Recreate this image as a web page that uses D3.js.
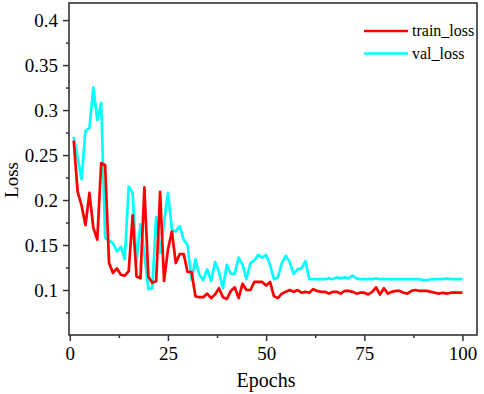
<!DOCTYPE html>
<html>
<head>
<meta charset="utf-8">
<script src="https://cdn.jsdelivr.net/npm/d3@7"></script>
<style>
  body { margin: 0; background: #fff; }
  svg, svg text { font-family: "Liberation Serif", "Times New Roman", serif; }
</style>
</head>
<body>
<div id="chart"></div>
<script>
// Loss values per epoch (1..100)
const trainLoss = [
  0.266, 0.209, 0.194, 0.172, 0.208, 0.169, 0.156, 0.241, 0.239, 0.130,
  0.119, 0.124, 0.117, 0.116, 0.121, 0.183, 0.115, 0.113, 0.214, 0.115,
  0.108, 0.110, 0.209, 0.110, 0.145, 0.165, 0.130, 0.140, 0.140, 0.120,
  0.120, 0.093, 0.092, 0.092, 0.096, 0.091, 0.095, 0.102, 0.092, 0.090,
  0.099, 0.103, 0.091, 0.107, 0.100, 0.100, 0.109, 0.109, 0.109, 0.105,
  0.109, 0.093, 0.091, 0.096, 0.098, 0.100, 0.098, 0.100, 0.097, 0.098,
  0.097, 0.101, 0.099, 0.098, 0.098, 0.096, 0.098, 0.098, 0.096, 0.099,
  0.099, 0.098, 0.096, 0.097, 0.097, 0.095, 0.098, 0.103, 0.095, 0.102,
  0.096, 0.098, 0.099, 0.099, 0.097, 0.096, 0.099, 0.100, 0.099, 0.099,
  0.099, 0.098, 0.097, 0.096, 0.097, 0.096, 0.097, 0.097, 0.097, 0.097
];
const valLoss = [
  0.270, 0.247, 0.223, 0.277, 0.280, 0.325, 0.289, 0.308, 0.158, 0.155,
  0.152, 0.143, 0.148, 0.134, 0.215, 0.208, 0.131, 0.173, 0.140, 0.101,
  0.102, 0.181, 0.141, 0.175, 0.208, 0.167, 0.165, 0.171, 0.156, 0.150,
  0.111, 0.134, 0.117, 0.111, 0.123, 0.110, 0.131, 0.120, 0.102, 0.128,
  0.118, 0.118, 0.136, 0.128, 0.112, 0.130, 0.133, 0.139, 0.136, 0.139,
  0.128, 0.112, 0.114, 0.130, 0.138, 0.131, 0.118, 0.123, 0.124, 0.132,
  0.112, 0.112, 0.112, 0.112, 0.112, 0.113, 0.112, 0.114, 0.113, 0.114,
  0.113, 0.116, 0.113, 0.112, 0.112, 0.112, 0.112, 0.113, 0.112, 0.112,
  0.112, 0.112, 0.112, 0.112, 0.112, 0.112, 0.112, 0.112, 0.112, 0.111,
  0.111, 0.112, 0.112, 0.112, 0.112, 0.113, 0.112, 0.112, 0.112, 0.112
];
const epochs = d3.range(1, trainLoss.length + 1);
const xTicks = [0, 25, 50, 75, 100];
const yTicks = [0.1, 0.15, 0.2, 0.25, 0.3, 0.35, 0.4];
const seriesNames = ["train_loss", "val_loss"];
const seriesColors = ["#ff0000", "#00ffff"];

const W = 484, H = 394;
const margin = { top: 3, right: 7, bottom: 59, left: 69 };
const innerW = W - margin.left - margin.right;
const innerH = H - margin.top - margin.bottom;
const axisColor = "#333";
const serif = '"Liberation Serif", "Times New Roman", serif';

const svg = d3.select("#chart").append("svg")
  .attr("width", W)
  .attr("height", H);

const g = svg.append("g")
  .attr("transform", `translate(${margin.left},${margin.top})`);

const x = d3.scaleLinear().domain([-0.2, 103.7]).range([0, innerW]);
const y = d3.scaleLinear().domain([0.05, 0.419]).range([innerH, 0]);

// minor ticks first, then major axes on top
const xMinor = d3.range(12.5, 101, 25);
const yMinor = d3.range(0.075, 0.42, 0.05);

g.append("g")
  .attr("transform", `translate(0,${innerH})`)
  .call(d3.axisBottom(x).tickValues(xMinor).tickSize(3).tickFormat(""))
  .call(a => a.select(".domain").remove())
  .call(a => a.selectAll("line").attr("stroke", axisColor).attr("stroke-width", 1.5));

g.append("g")
  .call(d3.axisLeft(y).tickValues(yMinor).tickSize(3).tickFormat(""))
  .call(a => a.select(".domain").remove())
  .call(a => a.selectAll("line").attr("stroke", axisColor).attr("stroke-width", 1.5));

const xAxis = g.append("g")
  .attr("transform", `translate(0,${innerH})`)
  .call(d3.axisBottom(x).tickValues(xTicks).tickSize(6).tickPadding(6).tickFormat(d3.format("d")));
xAxis.select(".domain").remove();
xAxis.selectAll("line").attr("stroke", axisColor).attr("stroke-width", 1.5);
xAxis.selectAll("text")
  .style("font-family", serif)
  .style("font-size", "19px")
  .attr("fill", "#000");

const yAxis = g.append("g")
  .call(d3.axisLeft(y).tickValues(yTicks).tickSize(6).tickPadding(5).tickFormat(d => String(+d.toFixed(2))));
yAxis.select(".domain").remove();
yAxis.selectAll("line").attr("stroke", axisColor).attr("stroke-width", 1.5);
yAxis.selectAll("text")
  .style("font-family", serif)
  .style("font-size", "19px")
  .attr("fill", "#000");

// clip lines to the plot box
g.append("clipPath").attr("id", "clip")
  .append("rect").attr("width", innerW).attr("height", innerH);

const line = d3.line()
  .x((d, i) => x(epochs[i]))
  .y(d => y(d));

const plot = g.append("g").attr("clip-path", "url(#clip)");

plot.append("path")
  .datum(valLoss)
  .attr("fill", "none")
  .attr("stroke", seriesColors[1])
  .attr("stroke-width", 2.7)
  .attr("stroke-linejoin", "round")
  .attr("d", line);

plot.append("path")
  .datum(trainLoss)
  .attr("fill", "none")
  .attr("stroke", seriesColors[0])
  .attr("stroke-width", 2.7)
  .attr("stroke-linejoin", "round")
  .attr("d", line);

// frame
g.append("rect")
  .attr("width", innerW)
  .attr("height", innerH)
  .attr("fill", "none")
  .attr("stroke", axisColor)
  .attr("stroke-width", 1.6);

// legend
const legend = g.append("g")
  .attr("transform", `translate(${innerW - 113},28)`);

legend.selectAll("g.item")
  .data(seriesNames)
  .enter()
  .append("g")
  .attr("class", "item")
  .attr("transform", (d, i) => `translate(0,${i * 22.5})`)
  .each(function(d, i) {
    const it = d3.select(this);
    it.append("line")
      .attr("x1", 0).attr("x2", 44)
      .attr("y1", 0).attr("y2", 0)
      .attr("stroke", seriesColors[i])
      .attr("stroke-width", 2.7);
    it.append("text")
      .attr("x", 48)
      .attr("y", 5)
      .style("font-family", serif)
      .style("font-size", "16px")
      .attr("fill", "#000")
      .text(d);
  });

// axis titles
svg.append("text")
  .attr("x", 266)
  .attr("y", 387)
  .attr("text-anchor", "middle")
  .style("font-family", serif)
  .style("font-size", "20px")
  .text("Epochs");

svg.append("text")
  .attr("transform", `translate(18,180) rotate(-90)`)
  .attr("text-anchor", "middle")
  .style("font-family", serif)
  .style("font-size", "19px")
  .text("Loss");
</script>
</body>
</html>
